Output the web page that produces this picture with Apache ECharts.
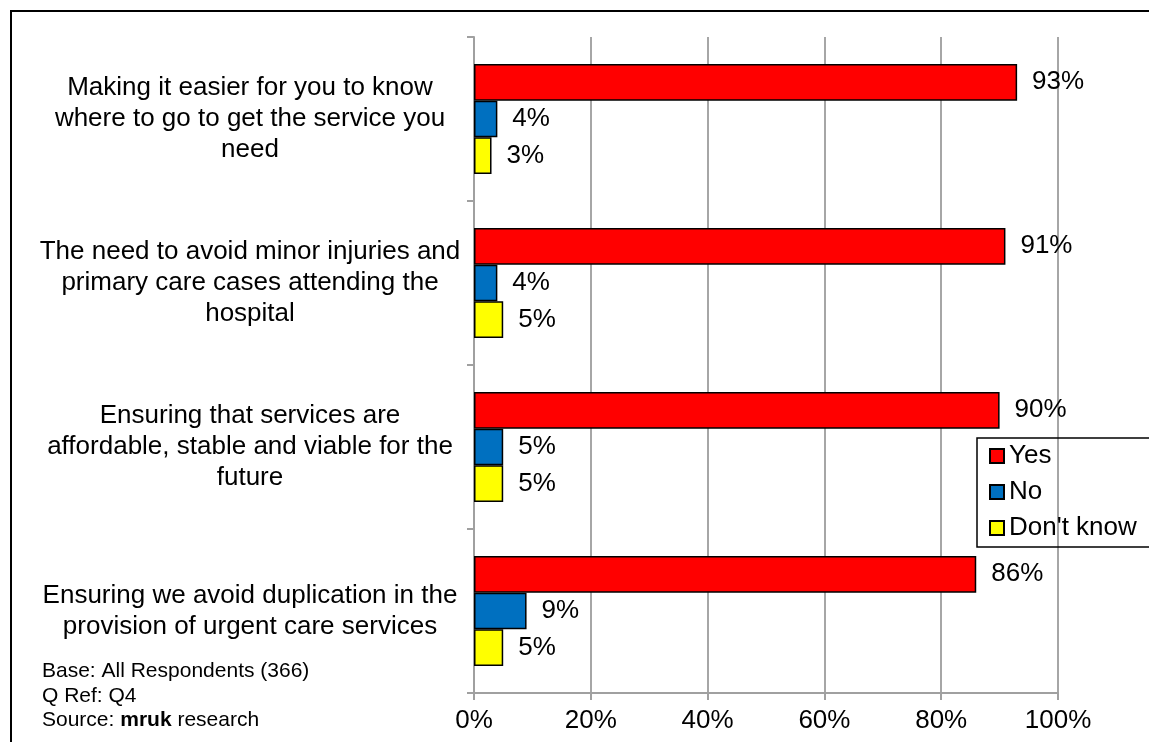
<!DOCTYPE html>
<html>
<head>
<meta charset="utf-8">
<style>
    html, body { margin: 0; padding: 0; background: #fff; }
    #chart { width: 1149px; height: 742px; }
</style>
<script src="https://cdn.jsdelivr.net/npm/echarts@6/dist/echarts.min.js"></script>
</head>
<body>
<div id="chart"></div>
<script>
var categories = [
    'Making it easier for you to know\nwhere to go to get the service you\nneed',
    'The need to avoid minor injuries and\nprimary care cases attending the\nhospital',
    'Ensuring that services are\naffordable, stable and viable for the\nfuture',
    'Ensuring we avoid duplication in the\nprovision of urgent care services'
];
var yesVals = [93, 91, 90, 86];
var noVals = [4, 4, 5, 9];
var dontKnowVals = [3, 5, 5, 5];
var seriesNames = ['Yes', 'No', "Don't know"];
var seriesColors = ['#FF0000', '#0070C0', '#FFFF00'];
var footLines = ['Base: All Respondents (366)', 'Q Ref: Q4', 'Source: {b|mruk} research'];

var font = '"Liberation Sans", Arial, sans-serif';

function barSeries(i, vals) {
    return {
        name: seriesNames[i],
        type: 'bar',
        data: vals,
        barWidth: 36.7,
        barGap: '0%',
        itemStyle: {
            color: seriesColors[i],
            borderColor: '#000',
            borderWidth: 1.5
        },
        label: {
            show: true,
            position: 'right',
            distance: 15,
            formatter: '{c}%',
            color: '#000',
            fontSize: 26,
            fontFamily: font
        }
    };
}

var myChart = echarts.init(document.getElementById('chart'));
var option = {
    animation: false,
    backgroundColor: '#fff',
    grid: {
        left: 474,
        right: 91,
        top: 37,
        bottom: 49
    },
    xAxis: {
        type: 'value',
        min: 0,
        max: 100,
        interval: 20,
        axisLine: { show: true, lineStyle: { color: '#A0A0A0', width: 2 } },
        axisTick: { show: true, length: 7, lineStyle: { color: '#A0A0A0', width: 2 } },
        splitLine: { show: true, lineStyle: { color: '#A6A6A6', width: 2 } },
        axisLabel: {
            formatter: '{value}%',
            color: '#000',
            fontSize: 26,
            fontFamily: font,
            margin: 15
        }
    },
    yAxis: {
        type: 'category',
        inverse: true,
        data: categories,
        axisLine: { show: true, lineStyle: { color: '#A0A0A0', width: 2 } },
        axisTick: { show: true, length: 7, lineStyle: { color: '#A0A0A0', width: 2 } },
        axisLabel: {
            interval: 0,
            align: 'center',
            margin: 224,
            color: '#000',
            fontSize: 26,
            lineHeight: 31,
            fontFamily: font
        }
    },
    legend: {
        orient: 'vertical',
        left: 977,
        top: 438,
        padding: [5, 40, 6, 12],
        itemGap: 10,
        itemWidth: 14,
        itemHeight: 14,
        icon: 'rect',
        borderColor: '#000',
        borderWidth: 1.5,
        borderRadius: 0,
        textStyle: {
            color: '#000',
            fontSize: 26,
            lineHeight: 26,
            fontFamily: font,
            padding: [0, 0, 0, 0]
        },
        data: seriesNames
    },
    graphic: [
        {
            type: 'rect',
            shape: { x: 11, y: 11, width: 1300, height: 900 },
            style: { fill: 'none', stroke: '#000', lineWidth: 2 },
            silent: true
        },
        {
            type: 'text',
            left: 42,
            top: 659,
            style: {
                text: footLines.join('\n'),
                fill: '#000',
                fontSize: 21,
                lineHeight: 24.5,
                fontFamily: font,
                rich: {
                    b: { fontWeight: 'bold', fontSize: 21, lineHeight: 24.5, fontFamily: font, fill: '#000' }
                }
            }
        }
    ],
    series: [
        barSeries(0, yesVals),
        barSeries(1, noVals),
        barSeries(2, dontKnowVals)
    ]
};
myChart.setOption(option);
</script>
</body>
</html>
